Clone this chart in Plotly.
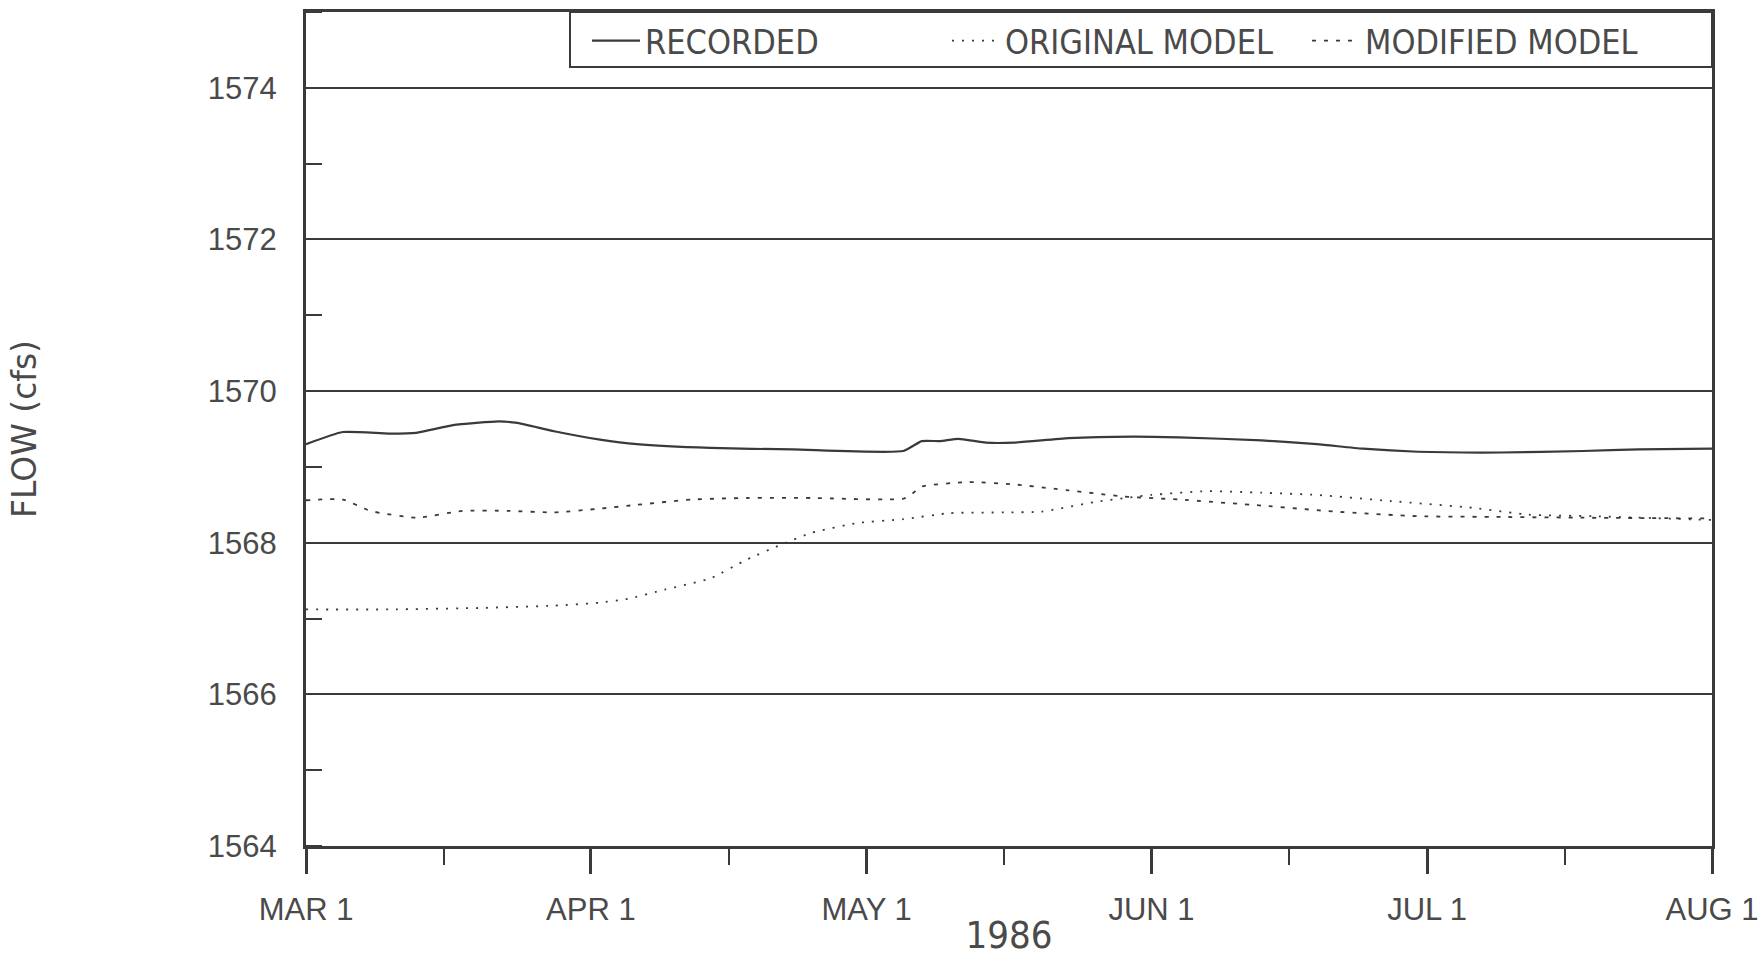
import plotly.graph_objects as go

# ---- data -------------------------------------------------------------
rec_dates = ["1986-03-01", "1986-03-05", "1986-03-10", "1986-03-13", "1986-03-17",
             "1986-03-22", "1986-03-24", "1986-03-28", "1986-04-02", "1986-04-06",
             "1986-04-14", "1986-04-23", "1986-05-05", "1986-05-07", "1986-05-09",
             "1986-05-11", "1986-05-14", "1986-05-17", "1986-05-23", "1986-05-30",
             "1986-06-04", "1986-06-13", "1986-06-19", "1986-06-24", "1986-06-30",
             "1986-07-09", "1986-07-18", "1986-07-24", "1986-08-01"]
rec_flow = [1569.30, 1569.46, 1569.44, 1569.45, 1569.55,
            1569.60, 1569.58, 1569.47, 1569.36, 1569.30,
            1569.25, 1569.23, 1569.21, 1569.34, 1569.34,
            1569.37, 1569.32, 1569.32, 1569.38, 1569.40,
            1569.39, 1569.35, 1569.30, 1569.24, 1569.20,
            1569.19, 1569.21, 1569.23, 1569.24]

orig_dates = ["1986-03-01", "1986-03-10", "1986-03-20", "1986-03-28", "1986-04-02",
              "1986-04-05", "1986-04-09", "1986-04-14", "1986-04-18", "1986-04-22",
              "1986-04-25", "1986-04-30", "1986-05-05", "1986-05-10", "1986-05-16",
              "1986-05-20", "1986-05-26", "1986-06-01", "1986-06-07", "1986-06-13",
              "1986-06-19", "1986-06-27", "1986-07-06", "1986-07-12", "1986-07-19",
              "1986-08-01"]
orig_flow = [1567.12, 1567.12, 1567.14, 1567.17, 1567.21,
             1567.26, 1567.38, 1567.53, 1567.78, 1567.99,
             1568.13, 1568.26, 1568.31, 1568.39, 1568.40,
             1568.41, 1568.54, 1568.63, 1568.68, 1568.66,
             1568.63, 1568.55, 1568.46, 1568.37, 1568.35,
             1568.30]

mod_dates = ["1986-03-01", "1986-03-05", "1986-03-08", "1986-03-13", "1986-03-18",
             "1986-03-23", "1986-03-28", "1986-04-02", "1986-04-06", "1986-04-12",
             "1986-04-18", "1986-04-25", "1986-05-05", "1986-05-06", "1986-05-07",
             "1986-05-12", "1986-05-17", "1986-05-23", "1986-05-29", "1986-06-04",
             "1986-06-13", "1986-06-21", "1986-06-30", "1986-07-09", "1986-07-18",
             "1986-08-01"]
mod_flow = [1568.56, 1568.57, 1568.42, 1568.33, 1568.42,
            1568.42, 1568.40, 1568.45, 1568.50, 1568.57,
            1568.59, 1568.59, 1568.58, 1568.65, 1568.74,
            1568.80, 1568.77, 1568.69, 1568.61, 1568.57,
            1568.49, 1568.41, 1568.35, 1568.34, 1568.33,
            1568.32]

month_ticks = ["1986-03-01", "1986-04-01", "1986-05-01", "1986-06-01", "1986-07-01", "1986-08-01"]
month_labels = ["MAR 1", "APR 1", "MAY 1", "JUN 1", "JUL 1", "AUG 1"]

# ---- styling ----------------------------------------------------------
INK = "#3a3a3a"
TEXT = "#4a4a4a"
NARROW = "Liberation Sans Narrow, DejaVu Sans Condensed, Arial Narrow, sans-serif"
PLAIN = "Liberation Sans, Arial, sans-serif"

fig = go.Figure()
fig.add_trace(go.Scatter(x=rec_dates, y=rec_flow, name="RECORDED", mode="lines",
                         line=dict(color=INK, width=2.2, shape="spline", smoothing=0.5)))
fig.add_trace(go.Scatter(x=orig_dates, y=orig_flow, name="ORIGINAL MODEL", mode="lines",
                         line=dict(color=INK, width=1.8, dash="2px,8px", shape="spline", smoothing=0.5)))
fig.add_trace(go.Scatter(x=mod_dates, y=mod_flow, name="MODIFIED MODEL", mode="lines",
                         line=dict(color=INK, width=1.8, dash="4px,8px", shape="spline", smoothing=0.5)))

# frame around the legend
leg_left = (570 - 306) / 1406
leg_bottom = (846 - 67) / 834
fig.add_shape(type="rect", xref="paper", yref="paper",
              x0=leg_left, x1=1, y0=leg_bottom, y1=1,
              line=dict(color=INK, width=2), fillcolor="rgba(0,0,0,0)", layer="above")

fig.update_layout(
    width=1763, height=957,
    margin=dict(l=306, r=51, t=12, b=111),
    paper_bgcolor="white", plot_bgcolor="white",
    showlegend=True,
    legend=dict(orientation="h", x=(587 - 306) / 1406, xanchor="left",
                y=1.0, yanchor="top",
                entrywidth=297, entrywidthmode="pixels",
                itemwidth=48,
                bgcolor="rgba(0,0,0,0)", borderwidth=0,
                font=dict(family=NARROW, size=34, color=TEXT)),
    xaxis=dict(
        type="date", automargin=False,
        range=["1986-03-01", "1986-08-01"],
        tickvals=month_ticks, ticktext=month_labels,
        ticks="outside", ticklen=25, tickwidth=2.5, tickcolor=INK,
        ticklabelstandoff=9,
        tickfont=dict(family=PLAIN, size=31, color=TEXT),
        minor=dict(ticks="outside", ticklen=16, tickwidth=2, tickcolor=INK,
                   dtick="M1", tick0="1986-03-16"),
        showgrid=False, zeroline=False,
        showline=True, linecolor=INK, linewidth=2.5, mirror=True,
        title=dict(text="1986", standoff=18,
                   font=dict(family=NARROW, size=38, color=TEXT)),
    ),
    yaxis=dict(
        automargin=False,
        range=[1564, 1575],
        tickvals=[1564, 1566, 1568, 1570, 1572, 1574],
        ticks="", ticklabelstandoff=20,
        tickfont=dict(family=PLAIN, size=31, color=TEXT),
        minor=dict(ticks="inside", ticklen=16, tickwidth=2, tickcolor=INK, dtick=1),
        showgrid=True, gridcolor=INK, gridwidth=2,
        zeroline=False,
        showline=True, linecolor=INK, linewidth=3, mirror=True,
        title=dict(text="FLOW (cfs)", standoff=162,
                   font=dict(family="DejaVu Sans, sans-serif", size=33, color=TEXT)),
    ),
)

fig.write_html("out.html")
